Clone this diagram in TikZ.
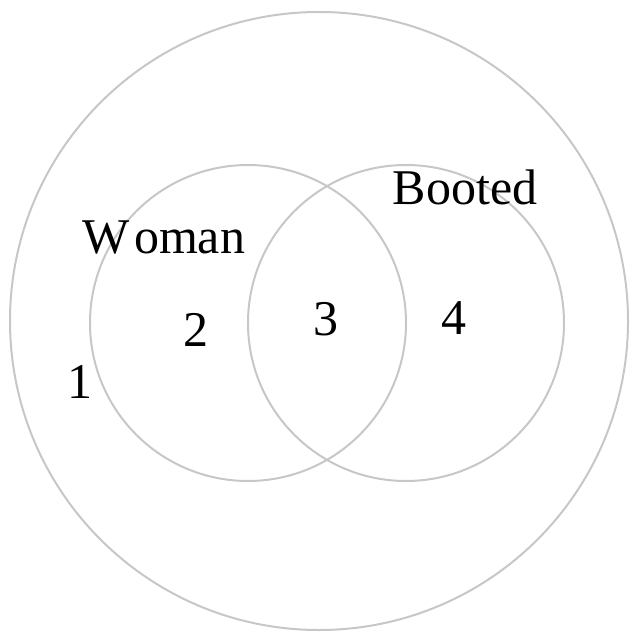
\documentclass[tikz,border=0pt]{standalone}
\usepackage{fontspec}
\setmainfont{Liberation Serif}
\begin{document}
\begin{tikzpicture}[x=1pt,y=-1pt,
  ring/.style={draw=black!22,line width=2pt},
  lbl/.style={font=\fontsize{50}{56}\selectfont,inner sep=0pt}]
\useasboundingbox (0,0) rectangle (636,639);
\node[ring,circle,minimum size=618pt,inner sep=0pt] (outer) at (319,321) {};
\node[ring,circle,minimum size=316pt,inner sep=0pt] (woman) at (248,323) {};
\node[ring,circle,minimum size=316pt,inner sep=0pt] (booted) at (406,323) {};
\node[lbl] (tw) at (164,238) {W\kern4pt oman};
\node[lbl] (tb) at (465,187) {Booted};
\node[lbl] (n1) at (80,382) {1};
\node[lbl] (n2) at (196,330) {2};
\node[lbl] (n3) at (326,319) {3};
\node[lbl] (n4) at (454,318) {4};
\end{tikzpicture}
\end{document}
